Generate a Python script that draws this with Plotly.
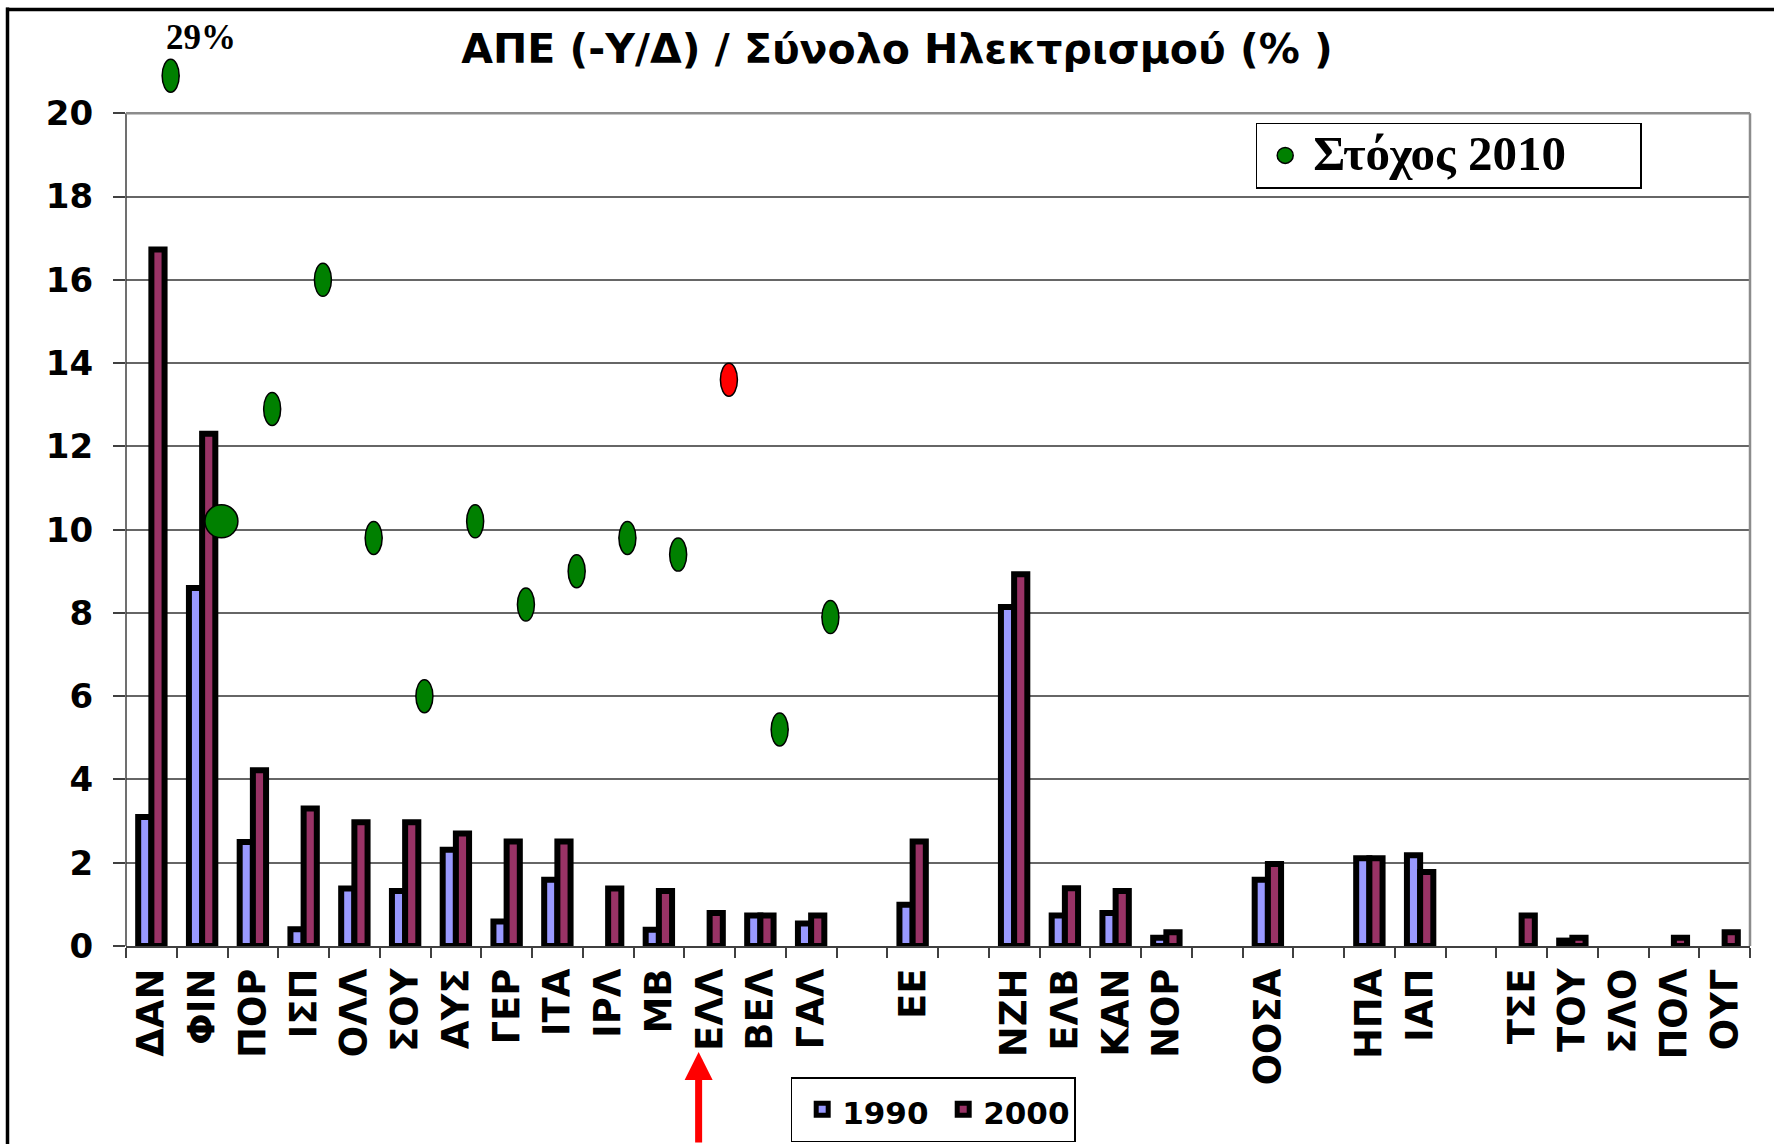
import plotly.graph_objects as go

# ---------------- data ----------------
categories = ["ΔΑΝ", "ΦΙΝ", "ΠΟΡ", "ΙΣΠ", "ΟΛΛ", "ΣΟΥ", "ΑΥΣ", "ΓΕΡ", "ΙΤΑ", "ΙΡΛ",
              "ΜΒ", "ΕΛΛ", "ΒΕΛ", "ΓΑΛ", " ", "ΕΕ", "  ", "ΝΖΗ", "ΕΛΒ", "ΚΑΝ",
              "ΝΟΡ", "   ", "ΟΟΣΑ", "    ", "ΗΠΑ", "ΙΑΠ", "     ", "ΤΣΕ", "ΤΟΥ",
              "ΣΛΟ", "ΠΟΛ", "ΟΥΓ"]

values_1990 = [3.1, 8.6, 2.5, 0.4, 1.38, 1.32, 2.31, 0.59, 1.59, None,
               0.39, None, 0.73, 0.54, None, 0.99, None, 8.14, 0.73, 0.79,
               0.2, None, 1.59, None, 2.11, 2.18, None, None, 0.13,
               None, None, None]

values_2000 = [16.73, 12.3, 4.22, 3.3, 2.97, 2.97, 2.7, 2.51, 2.51, 1.38,
               1.32, 0.79, 0.73, 0.73, None, 2.51, None, 8.93, 1.39, 1.32,
               0.33, None, 1.97, None, 2.11, 1.78, None, 0.73, 0.2,
               None, 0.2, 0.33]

target_2010 = [29, 10.2, 12.9, 16.0, 9.8, 6.0, 10.2, 8.2, 9.0, 9.8,
               9.4, 13.6, 5.2, 7.9] + [None] * 18

y_tick_values = [0, 2, 4, 6, 8, 10, 12, 14, 16, 18, 20]
y_tick_labels = ["0", "2", "4", "6", "8", "10", "12", "14", "16", "18", "20"]

title_text = "ΑΠΕ (-Υ/Δ) / Σύνολο Ηλεκτρισμού (% )"
series_names = ["1990", "2000"]
target_name = "Στόχος 2010"

# ---------------- styling ----------------
W, H = 1774, 1144
ML, MR, MT, MB = 126, 24, 30, 198
Y_TOP = 22            # axis extends above 20 so the clipped 29% target fits
DISPLAY_CAP = 20.9    # targets above the chart are drawn at this level
TARGET_SHIFT = 0.38   # targets sit slightly right of category centres
BIG = {"ΦΙΝ"}
RED = {"ΕΛΛ"}
C1990, C2000 = "#9999FF", "#993366"
GREEN, REDC = "#008000", "#FF0000"
SANS = "DejaVu Sans"
SERIF = "Liberation Serif"
BAR_LINE = 6

pw = W - ML - MR
ph = H - MT - MB


def px_x(p):
    return (p - ML) / pw


def px_y(p):
    return (H - MB - p) / ph


def sized(text, size):
    return f"<span style='font-size:{size}px'>{text}</span>"


fig = go.Figure()

fig.add_trace(go.Bar(x=categories, y=values_1990, name=sized(series_names[0], 31),
                     marker=dict(color=C1990, line=dict(color="black", width=BAR_LINE)),
                     legend="legend"))
fig.add_trace(go.Bar(x=categories, y=values_2000, name=sized(series_names[1], 31),
                     marker=dict(color=C2000, line=dict(color="black", width=BAR_LINE)),
                     legend="legend"))

tx, ty, tcol = [], [], []
for i, (c, v) in enumerate(zip(categories, target_2010)):
    if v is None:
        continue
    tx.append(i + TARGET_SHIFT)
    ty.append(min(v, DISPLAY_CAP))
    tcol.append(REDC if c in RED else GREEN)

fig.add_trace(go.Scatter(x=tx, y=ty, xaxis="x2", yaxis="y", mode="markers",
                         name=sized(target_name, 49), legend="legend2",
                         marker=dict(symbol="circle", size=16, color=tcol,
                                     line=dict(color="black", width=1.5)),
                         cliponaxis=False))

shapes = []
j = 0
for i, (c, v) in enumerate(zip(categories, target_2010)):
    if v is None:
        continue
    hw, hh = (16.5, 16.5) if c in BIG else (8.5, 16.5)
    shapes.append(dict(type="circle", xref="x2", yref="y", layer="above",
                       xsizemode="pixel", ysizemode="pixel",
                       xanchor=tx[j], yanchor=ty[j],
                       x0=-hw, x1=hw, y0=-hh, y1=hh,
                       fillcolor=tcol[j], line=dict(color="black", width=1.5)))
    j += 1

# plot-area frame pieces
shapes += [
    dict(type="line", xref="paper", yref="y", x0=0, x1=0, y0=0, y1=20,
         line=dict(color="#404040", width=1.5)),
    dict(type="line", xref="paper", yref="y", x0=1, x1=1, y0=0, y1=20,
         line=dict(color="#8c8c8c", width=2.5)),
    dict(type="line", xref="paper", yref="y", x0=0, x1=1, y0=20, y1=20,
         line=dict(color="#8c8c8c", width=2.5)),
    # outer slide frame
    dict(type="line", xref="paper", yref="paper", x0=px_x(7.5), x1=px_x(7.5),
         y0=px_y(7.5), y1=px_y(H + 10), line=dict(color="black", width=3.5)),
    dict(type="line", xref="paper", yref="paper", x0=px_x(6), x1=px_x(W + 10),
         y0=px_y(9.5), y1=px_y(9.5), line=dict(color="black", width=3.5)),
]

annotations = []
for i, v in enumerate(target_2010):
    if v is not None and v > DISPLAY_CAP:
        annotations.append(dict(xref="x2", yref="y", x=i + TARGET_SHIFT, y=DISPLAY_CAP,
                                text=f"{v:g}%", showarrow=False, xshift=30, yshift=38,
                                font=dict(family=SERIF, size=35, color="black", weight="bold")))

annotations.append(dict(xref="x", yref="paper", x="ΕΛΛ", y=px_y(1052), text="",
                        showarrow=True, ax=0, ay=110, arrowhead=2, arrowsize=0.8,
                        arrowwidth=7, arrowcolor=REDC, xshift=-11))

fig.update_layout(
    width=W, height=H,
    margin=dict(l=ML, r=MR, t=MT, b=MB, autoexpand=False),
    paper_bgcolor="white", plot_bgcolor="white",
    barmode="group", bargap=0.48, bargroupgap=0,
    title=dict(text=title_text, xref="container", yref="container",
               x=897 / W, y=1 - 49 / H, xanchor="center", yanchor="middle",
               font=dict(family=SANS, size=41, color="black", weight="bold")),
    xaxis=dict(type="category", categoryorder="array", categoryarray=categories,
               range=[-0.5, len(categories) - 0.5], tickson="boundaries",
               ticks="outside", ticklen=10, tickwidth=1.5, tickcolor="#404040",
               showline=True, linecolor="#404040", linewidth=1.5, showgrid=False,
               tickangle=-90, ticklabelstandoff=6,
               tickfont=dict(family=SANS, size=37, color="black", weight="bold")),
    xaxis2=dict(overlaying="x", range=[-0.5, len(categories) - 0.5], visible=False),
    yaxis=dict(range=[0, Y_TOP], tickmode="array", tickvals=y_tick_values,
               ticktext=y_tick_labels, ticks="outside", ticklen=12, tickwidth=1.5,
               tickcolor="#404040", showline=False, zeroline=False,
               gridcolor="#666666", gridwidth=1.5, ticklabelstandoff=13,
               tickfont=dict(family=SANS, size=34, color="black", weight="bold")),
    legend=dict(orientation="h", x=px_x(790.7), y=px_y(1077.3), xanchor="left",
                yanchor="top", bgcolor="white", bordercolor="black", borderwidth=1.5,
                font=dict(family=SANS, size=37, color="black", weight="bold"),
                entrywidth=86, entrywidthmode="pixels", indentation=10),
    legend2=dict(orientation="h", x=px_x(1255.7), y=px_y(122.7), xanchor="left",
                 yanchor="top", bgcolor="white", bordercolor="black", borderwidth=1.5,
                 font=dict(family=SERIF, size=38, color="black", weight="bold"),
                 itemwidth=46, entrywidth=322, entrywidthmode="pixels"),
    shapes=shapes,
    annotations=annotations,
    showlegend=True,
)

fig.write_html("out.html", config={"displayModeBar": False},
               post_script="document.body.style.margin='0';"
                           "document.body.style.overflow='hidden';")
